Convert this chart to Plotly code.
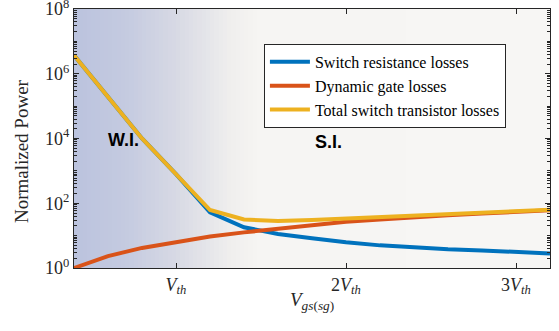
import numpy as np
import plotly.graph_objects as go

# ---- data (x in units of V_th) ----
vgs = [0.4, 0.6, 0.8, 1.0, 1.2, 1.4, 1.6, 1.8, 2.0, 2.2, 2.4, 2.6, 2.8, 3.0, 3.2]
switch_resistance = [3.7e6, 1.95e5, 1.0e4, 794, 52.5, 18.2, 11.2, 8.3, 6.2, 5.0, 4.3, 3.8, 3.5, 3.1, 2.8]
dynamic_gate = [1.0, 2.34, 4.17, 6.46, 9.33, 12.6, 16.2, 21.4, 26.9, 31.6, 37.2, 42.7, 47.9, 53.7, 60.3]
total_losses = [3.7e6, 1.95e5, 1.0e4, 800, 61.7, 31.6, 28.2, 30.2, 33.9, 37.2, 41.7, 46.8, 51.3, 56.2, 63.1]

series_names = ["Switch resistance losses", "Dynamic gate losses", "Total switch transistor losses"]
x_tickvals = [1, 2, 3]
x_ticktext = ["<i>V</i><sub><i>th</i></sub>", "2<i>V</i><sub><i>th</i></sub>", "3<i>V</i><sub><i>th</i></sub>"]
y_tickvals = [1, 1e2, 1e4, 1e6, 1e8]
y_ticktext = ["10<sup>0</sup>", "10<sup>2</sup>", "10<sup>4</sup>", "10<sup>6</sup>", "10<sup>8</sup>"]
x_title = "<i>V</i><sub><i>gs</i>(<i>sg</i>)</sub>"
y_title = "Normalized Power"

colors = ["#0072BD", "#D95319", "#EDB120"]
serif = "Liberation Serif"
axcol = "#262626"

fig = go.Figure()

# background gradient (weak inversion -> strong inversion)
xmin, xmax = vgs[0], vgs[-1]
edges = np.linspace(xmin, xmax, 113)
zrow = (edges[:-1] + edges[1:]) / 2
fig.add_trace(go.Heatmap(
    x=edges, y=[1e-1, 1e9], z=[zrow],
    colorscale=[
        [0.0, "rgb(187,195,222)"],
        [(0.7 - xmin) / (xmax - xmin), "rgb(196,202,224)"],
        [(1.0 - xmin) / (xmax - xmin), "rgb(215,217,228)"],
        [(1.3 - xmin) / (xmax - xmin), "rgb(238,237,237)"],
        [(1.5 - xmin) / (xmax - xmin), "rgb(246,245,243)"],
        [1.0, "rgb(247,246,244)"],
    ],
    zmin=xmin, zmax=xmax, showscale=False, hoverinfo="skip", showlegend=False,
))

for name, ys, c in zip(series_names, [switch_resistance, dynamic_gate, total_losses], colors):
    fig.add_trace(go.Scatter(x=vgs, y=ys, mode="lines", name=name,
                             line=dict(color=c, width=4)))

minor_vals = [m * 10 ** d for d in range(0, 8) for m in range(2, 10)] + [10 ** d for d in range(1, 8, 2)]

fig.update_layout(
    width=559, height=331,
    margin=dict(l=74, r=9, t=9, b=63),
    paper_bgcolor="white", plot_bgcolor="white",
    font=dict(family=serif, color=axcol, size=16),
    showlegend=True,
    legend=dict(
        x=0.399, y=0.865, xanchor="left", yanchor="top",
        bgcolor="white", bordercolor=axcol, borderwidth=1,
        font=dict(family=serif, size=16, color="black"),
        tracegroupgap=0, itemwidth=40,
    ),
    xaxis=dict(
        range=[xmin, xmax], tickvals=x_tickvals, ticktext=x_ticktext, automargin=False,
        ticks="inside", ticklen=5, tickcolor=axcol, showline=True, linecolor=axcol,
        linewidth=1, mirror="ticks", showgrid=False, zeroline=False,
        tickfont=dict(family=serif, size=18, color=axcol), ticklabeloverflow="allow",
    ),
    yaxis=dict(
        type="log", range=[0, 8], tickvals=y_tickvals, ticktext=y_ticktext, automargin=False,
        ticks="inside", ticklen=5, tickcolor=axcol, showline=True, linecolor=axcol,
        linewidth=1, mirror="ticks", showgrid=False, zeroline=False,
        tickfont=dict(family=serif, size=18, color=axcol), ticklabeloverflow="allow",
        minor=dict(tickvals=minor_vals, ticks="inside", ticklen=3, tickcolor=axcol, showgrid=False),
    ),
    annotations=[
        dict(x=0.693, y=3.95, xref="x", yref="y", text="<b>W.I.</b>", showarrow=False,
             font=dict(family="Liberation Sans", size=18, color="black")),
        dict(x=1.897, y=3.90, xref="x", yref="y", text="<b>S.I.</b>", showarrow=False,
             font=dict(family="Liberation Sans", size=18, color="black")),
        dict(x=0.5, y=-0.128, xref="paper", yref="paper", text=x_title, showarrow=False,
             font=dict(family=serif, size=19, color=axcol), xanchor="center", yanchor="middle"),
        dict(x=-0.11, y=0.45, xref="paper", yref="paper", text=y_title, showarrow=False, textangle=-90,
             font=dict(family=serif, size=19, color=axcol), xanchor="center", yanchor="middle"),
    ],
)

fig.write_html("out.html", config={"displayModeBar": False},
               post_script="document.body.style.margin='0';")
